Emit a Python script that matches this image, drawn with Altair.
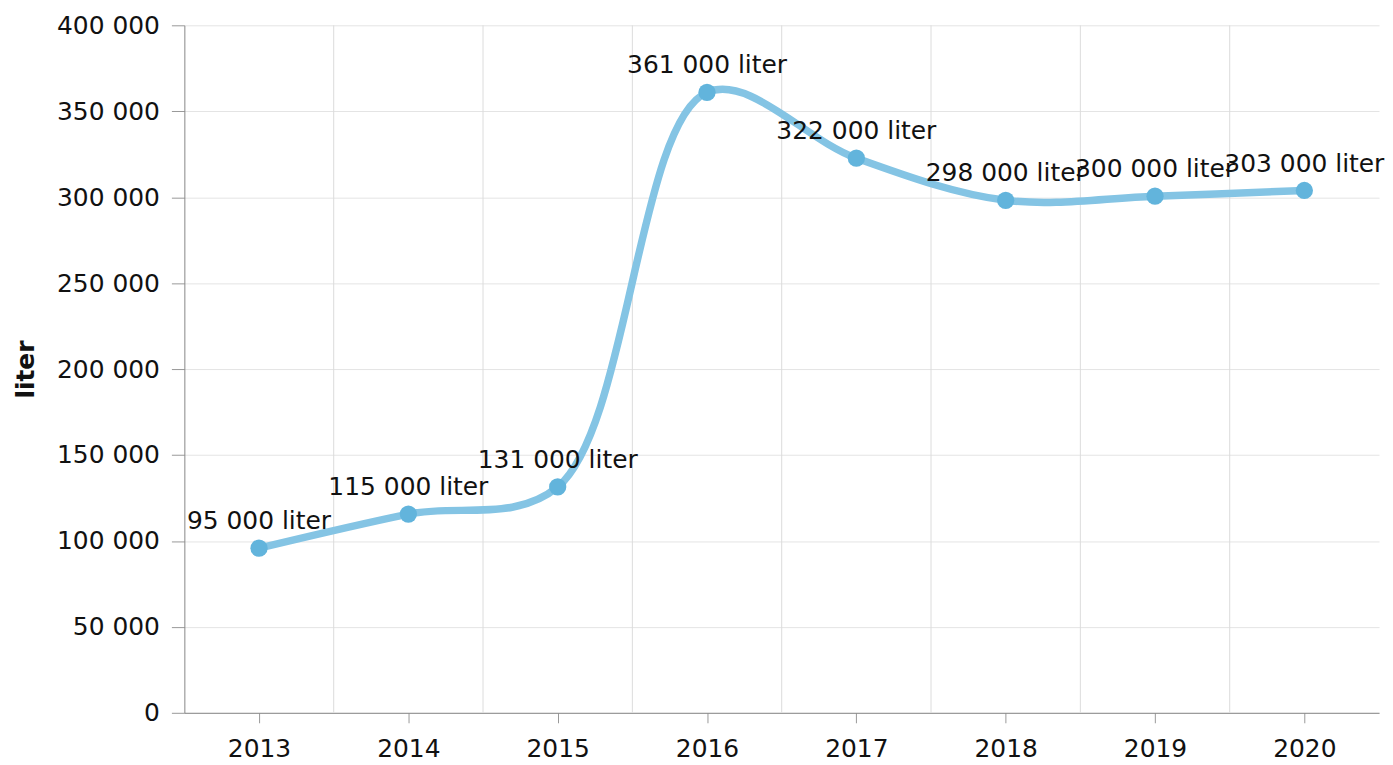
import altair as alt
import pandas as pd

years = [2013, 2014, 2015, 2016, 2017, 2018, 2019, 2020]
values = [95800, 115600, 131400, 361000, 322700, 298200, 300600, 303900]
labels = ["95 000 liter", "115 000 liter", "131 000 liter", "361 000 liter",
          "322 000 liter", "298 000 liter", "300 000 liter", "303 000 liter"]
y_ticks = [0, 50000, 100000, 150000, 200000, 250000, 300000, 350000, 400000]

df = pd.DataFrame({"year": years, "value": values, "label": labels})
FONT = "DejaVu Sans"
FS = 25

x_scale = alt.Scale(domain=[2012.5, 2020.5], nice=False, zero=False)
y_scale = alt.Scale(domain=[0, 400000], nice=False)

x_enc = alt.X("year:Q", scale=x_scale,
              axis=alt.Axis(values=years, format="d", grid=False, title=None,
                            labelFontSize=FS, labelFont=FONT, labelColor="#111",
                            tickSize=10, tickColor="#999", domainColor="#888",
                            labelPadding=14, labelFlush=False))
y_enc = alt.Y("value:Q", scale=y_scale,
              axis=alt.Axis(values=y_ticks, title="liter", titleFontSize=FS,
                            titleFont=FONT, titleFontWeight="bold", titleColor="#111",
                            labelExpr="replace(format(datum.value, ','), ',', ' ')",
                            labelFontSize=FS, labelFont=FONT, labelColor="#111",
                            tickSize=13, tickColor="#999", domainColor="#888",
                            gridColor="#e4e4e4", labelPadding=12, titlePadding=18))

base = alt.Chart(df)

vgrid = base.transform_filter(alt.datum.year < 2020).transform_calculate(
    gx="datum.year + 0.5"
).mark_rule(color="#dcdcdc", strokeWidth=1).encode(
    x=alt.X("gx:Q", scale=x_scale)
)

line = base.mark_line(color="#84c4e4", strokeWidth=7.5, interpolate="catmull-rom").encode(
    x=x_enc, y=y_enc
)
points = base.mark_circle(color="#62b4dc", size=300, opacity=1).encode(
    x="year:Q", y="value:Q"
)
text = base.mark_text(font=FONT, fontSize=FS, color="#111", baseline="alphabetic",
                      dy=-19).encode(
    x="year:Q", y="value:Q", text="label:N"
)

chart = alt.layer(vgrid, line, points, text).properties(
    width=1199, height=690,
    padding={"left": 5, "top": 4, "right": 0, "bottom": 0}
).configure_view(stroke=None)

chart.save("out.html", embed_options={"renderer": "svg", "actions": False})
